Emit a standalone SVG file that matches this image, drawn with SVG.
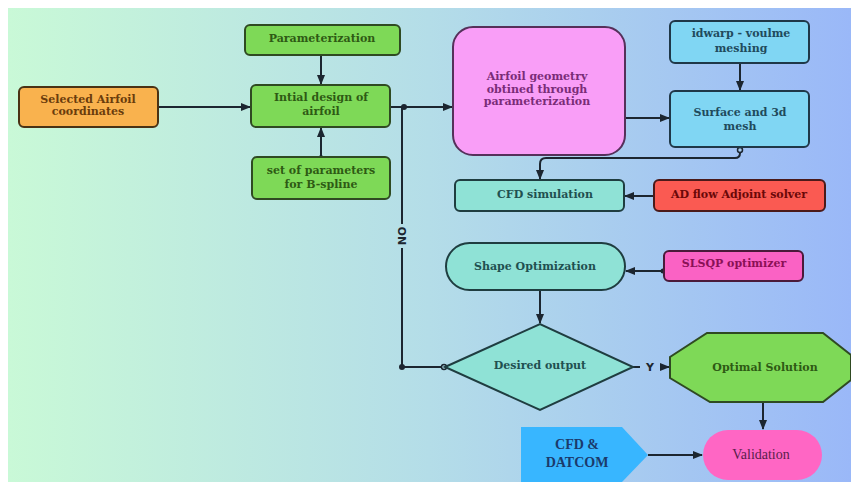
<svg xmlns="http://www.w3.org/2000/svg" width="851" height="482" viewBox="0 0 851 482">
<defs>
<linearGradient id="bg" x1="0" y1="0" x2="1" y2="0">
<stop offset="0" stop-color="#c9f9d7"/>
<stop offset="0.5" stop-color="#b4dde8"/>
<stop offset="1" stop-color="#9ab8f8"/>
</linearGradient>
<marker id="arr" viewBox="0 0 10 10" refX="9" refY="5" markerWidth="5" markerHeight="5" orient="auto">
<path d="M0,1 L10,5 L0,9 z" fill="#1c2630"/>
</marker>
<style>
.n{stroke-width:2}
.t{font-family:"DejaVu Serif","Liberation Serif",serif;font-weight:bold;font-size:11px;text-anchor:middle}
.c{fill:none;stroke:#1c2630;stroke-width:2}
.g{fill:#7ed957;stroke:#2f4a22}
.gt{fill:#2e5a14}
.b{fill:#80d6f3;stroke:#1f3848}
.bt{fill:#1f4a5c}
.tl{fill:#8fe2d6;stroke:#1f3d40}
.tlt{fill:#1f5050}
.s{font-family:"Liberation Serif","Times New Roman",serif;font-size:14px;text-anchor:middle}
</style>
</defs>
<rect x="0" y="0" width="851" height="482" fill="#ffffff"/>
<rect x="8" y="8" width="843" height="474" fill="url(#bg)"/>

<g id="connectors">
<line class="c" x1="158" y1="107" x2="250" y2="107" marker-end="url(#arr)"/>
<line class="c" x1="321" y1="55" x2="321" y2="84" marker-end="url(#arr)"/>
<line class="c" x1="321" y1="157" x2="321" y2="128" marker-end="url(#arr)"/>
<circle cx="321" cy="157" r="2" fill="#1c2630"/>
<line class="c" x1="390" y1="107" x2="452" y2="107" marker-end="url(#arr)"/>
<circle cx="404" cy="107" r="3" fill="#1c2630"/>
<path class="c" d="M443,367 L402,367 L402,248 M402,224 L402,107"/>
<circle cx="402" cy="367" r="3" fill="#1c2630"/>
<circle cx="444" cy="367" r="2.5" fill="#b4dde8" stroke="#1c2630" stroke-width="1.5"/>
<text x="0" y="0" transform="translate(406,236) rotate(-90)" style="font-family:'DejaVu Sans','Liberation Sans',sans-serif;font-weight:bold;font-size:11px;text-anchor:middle" fill="#1c2630">NO</text>
<line class="c" x1="625" y1="118" x2="669" y2="118" marker-end="url(#arr)"/>
<line class="c" x1="740" y1="63" x2="740" y2="90" marker-end="url(#arr)"/>
<path class="c" d="M740,150 L740,153 Q740,158 735,158 L546,158 Q540,158 540,164 L540,179" marker-end="url(#arr)"/>
<circle cx="740" cy="150" r="2.5" fill="#a8cdf0" stroke="#1c2630" stroke-width="1.5"/>
<line class="c" x1="654" y1="196" x2="625" y2="196" marker-end="url(#arr)"/>
<line class="c" x1="663" y1="271" x2="626" y2="271" marker-end="url(#arr)"/>
<circle cx="663" cy="271" r="2.5" fill="#1c2630"/>
<line class="c" x1="540" y1="290" x2="540" y2="323" marker-end="url(#arr)"/>
<path class="c" d="M633,367 L640,367"/>
<line class="c" x1="660" y1="367" x2="669" y2="367" marker-end="url(#arr)"/>
<text x="650" y="371" style="font-family:'DejaVu Sans','Liberation Sans',sans-serif;font-weight:bold;font-size:11px;text-anchor:middle" fill="#1c2630">Y</text>
<line class="c" x1="763" y1="402" x2="763" y2="429" marker-end="url(#arr)"/>
<line class="c" x1="648" y1="455" x2="702" y2="455" marker-end="url(#arr)"/>
</g>

<g id="selected">
<rect class="n" x="19" y="87" width="139" height="40" rx="5" fill="#f9b24e" stroke="#4a3214"/>
<text class="t" x="88" y="103" fill="#6a3c0c">Selected Airfoil</text>
<text class="t" x="88" y="115" fill="#6a3c0c">coordinates</text>
</g>
<g id="parameterization">
<rect class="n g" x="245" y="25" width="155" height="30" rx="5"/>
<text class="t gt" x="322" y="42">Parameterization</text>
</g>
<g id="initial">
<rect class="n g" x="251" y="85" width="139" height="42" rx="5"/>
<text class="t gt" x="321" y="101">Intial design of</text>
<text class="t gt" x="321" y="115">airfoil</text>
</g>
<g id="bspline">
<rect class="n g" x="252" y="157" width="138" height="42" rx="5"/>
<text class="t gt" x="321" y="174">set of parameters</text>
<text class="t gt" x="321" y="188">for B-spline</text>
</g>
<g id="geometry">
<rect class="n" x="453" y="27" width="172" height="128" rx="20" fill="#f99ef7" stroke="#55305a"/>
<text class="t" x="537" y="80" fill="#7a2c78">Airfoil geometry</text>
<text class="t" x="537" y="93" fill="#7a2c78">obtined through</text>
<text class="t" x="537" y="105" fill="#7a2c78">parameterization</text>
</g>
<g id="idwarp">
<rect class="n b" x="670" y="21" width="139" height="42" rx="5"/>
<text class="t bt" x="741" y="37">idwarp - voulme</text>
<text class="t bt" x="741" y="52">meshing</text>
</g>
<g id="surface">
<rect class="n b" x="670" y="91" width="139" height="56" rx="5"/>
<text class="t bt" x="740" y="116">Surface and 3d</text>
<text class="t bt" x="740" y="130">mesh</text>
</g>
<g id="cfdsim">
<rect class="n tl" x="455" y="180" width="169" height="31" rx="5"/>
<text class="t tlt" x="545" y="198">CFD simulation</text>
</g>
<g id="adflow">
<rect class="n" x="654" y="180" width="171" height="31" rx="5" fill="#fa5a52" stroke="#4a1a1a"/>
<text class="t" x="739" y="198" fill="#6a0808">AD flow Adjoint solver</text>
</g>
<g id="shapeopt">
<rect class="n tl" x="446" y="243" width="179" height="47" rx="23.5"/>
<text class="t tlt" x="535" y="270">Shape Optimization</text>
</g>
<g id="slsqp">
<rect class="n" x="664" y="251" width="139" height="30" rx="5" fill="#fa62c4" stroke="#4a1a3a"/>
<text class="t" x="734" y="267" fill="#8a1056">SLSQP optimizer</text>
</g>
<g id="desired">
<polygon class="n tl" points="445,367 540,324 633,367 540,410"/>
<text class="t tlt" x="540" y="369">Desired output</text>
</g>
<g id="optimal">
<polygon class="n g" points="707,333 823,333 851,355 851,380 823,402 710,402 670,378 670,357"/>
<text class="t gt" x="765" y="371">Optimal Solution</text>
</g>
<g id="cfddatcom">
<polygon points="521,427 622,427 648,455 622,482 521,482" fill="#38b6ff"/>
<text class="s" x="577" y="449" font-weight="bold" fill="#1b3a6b">CFD &amp;</text>
<text class="s" x="577" y="467" font-weight="bold" fill="#1b3a6b">DATCOM</text>
</g>
<g id="validation">
<rect x="703" y="430" width="119" height="50" rx="25" fill="#ff66c4"/>
<text class="s" x="761" y="459" fill="#5a1e4a">Validation</text>
</g>
</svg>
